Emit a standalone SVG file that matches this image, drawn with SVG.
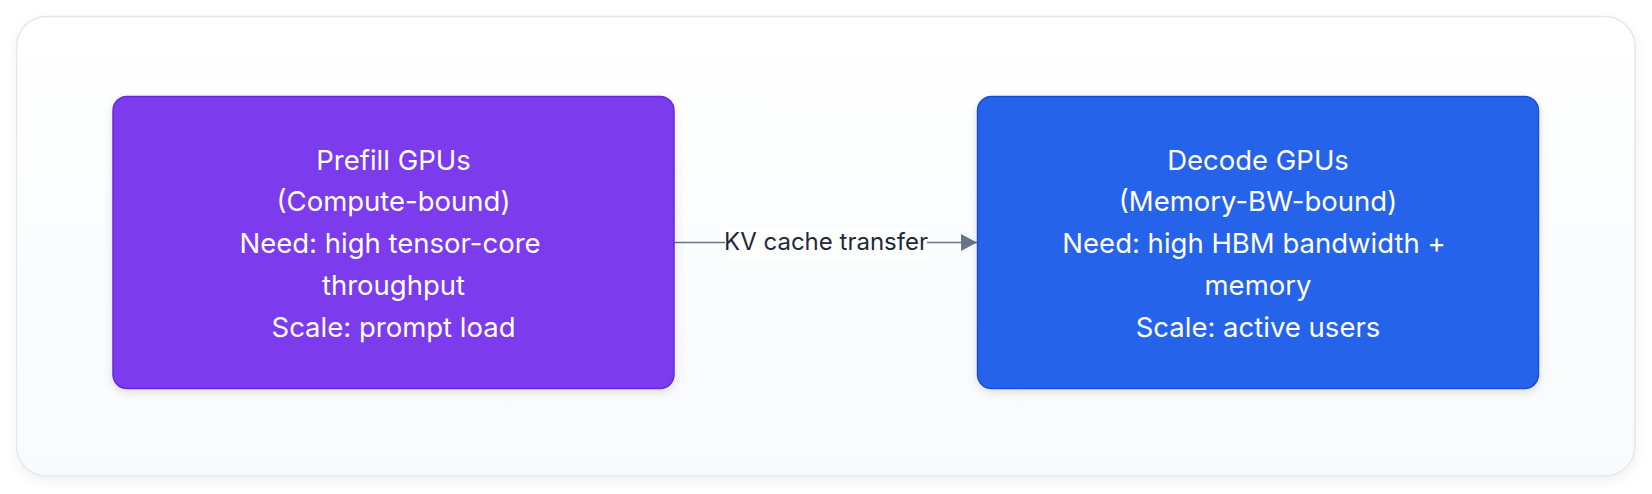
<svg xmlns="http://www.w3.org/2000/svg" width="1652" height="494" viewBox="0 0 1652 494">
  <defs>
    <linearGradient id="bg" x1="0" y1="0" x2="0" y2="1">
      <stop offset="0" stop-color="#ffffff"/>
      <stop offset="1" stop-color="#f8fafc"/>
    </linearGradient>
    <filter id="shadowOuter" x="-5%" y="-10%" width="110%" height="125%">
      <feDropShadow dx="0" dy="4" stdDeviation="6" flood-color="#0f172a" flood-opacity="0.06"/>
    </filter>
    <filter id="shadowNode" x="-5%" y="-10%" width="110%" height="125%">
      <feDropShadow dx="0" dy="3" stdDeviation="4" flood-color="#0f172a" flood-opacity="0.12"/>
    </filter>
    <marker id="arrow" markerWidth="16" markerHeight="17" refX="16" refY="8.5" orient="auto" markerUnits="userSpaceOnUse">
      <path d="M0,0 L16,8.5 L0,17 Z" fill="#64748b"/>
    </marker>
    <style>
      .node-text { font-family: Inter, "Noto Sans", "Liberation Sans", sans-serif; font-size: 27.5px; fill: #ffffff; text-anchor: middle; }
      .edge-label { font-family: Inter, "Noto Sans", "Liberation Sans", sans-serif; font-size: 24px; fill: #1e293b; text-anchor: middle; }
      .edge { stroke: #64748b; stroke-width: 1.5; fill: none; }
    </style>
  </defs>

  <rect x="16.5" y="16.5" width="1618.5" height="459.5" rx="30" ry="30" fill="url(#bg)" stroke="#e2e8f0" stroke-width="1.5" filter="url(#shadowOuter)"/>

  <g id="connectors">
    <line class="edge" x1="674" y1="242.5" x2="977" y2="242.5" marker-end="url(#arrow)"/>
    <rect x="725" y="227" width="202" height="31" fill="#ffffff"/>
    <text class="edge-label" x="826" y="250">KV cache transfer</text>
  </g>

  <g id="prefill">
    <rect x="113" y="96.5" width="561" height="292" rx="14" ry="14" fill="#7c3aed" stroke="#6d28d9" stroke-width="1.5" filter="url(#shadowNode)"/>
    <text class="node-text" x="393.5" y="169.5">Prefill GPUs</text>
    <text class="node-text" x="393.5" y="211.3">(Compute-bound)</text>
    <text class="node-text" x="390" y="253">Need: high tensor-core</text>
    <text class="node-text" x="393.5" y="294.8">throughput</text>
    <text class="node-text" x="393.5" y="336.5">Scale: prompt load</text>
  </g>

  <g id="decode">
    <rect x="977.5" y="96.5" width="561" height="292" rx="14" ry="14" fill="#2563eb" stroke="#1d4ed8" stroke-width="1.5" filter="url(#shadowNode)"/>
    <text class="node-text" x="1258" y="169.5">Decode GPUs</text>
    <text class="node-text" x="1258" y="211.3">(Memory-BW-bound)</text>
    <text class="node-text" x="1254" y="253">Need: high HBM bandwidth +</text>
    <text class="node-text" x="1258" y="294.8">memory</text>
    <text class="node-text" x="1258" y="336.5">Scale: active users</text>
  </g>
</svg>
